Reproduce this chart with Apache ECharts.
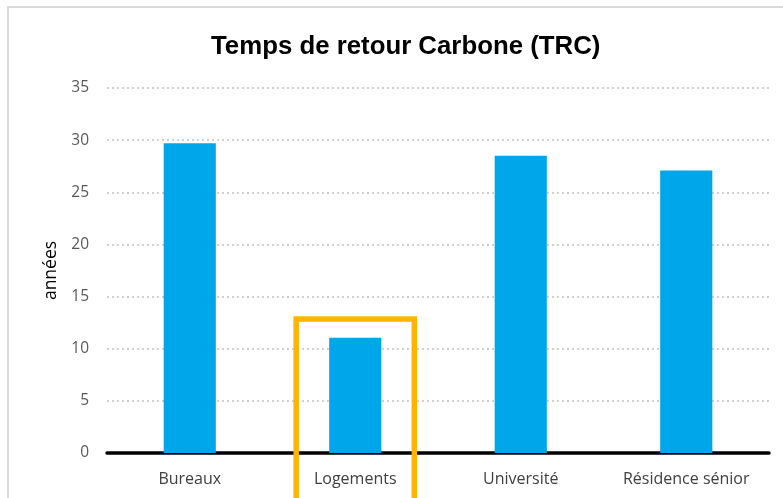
<!DOCTYPE html>
<html>
<head>
<meta charset="utf-8">
<script src="https://cdn.jsdelivr.net/npm/echarts@6/dist/echarts.min.js"></script>
<style>
  html, body { margin: 0; padding: 0; background: #ffffff; }
  #chart { width: 783px; height: 498px; }
</style>
</head>
<body>
<div id="chart"></div>
<script>
// Building types and their carbon payback time (years)
const categories = ['Bureaux', 'Logements', 'Université', 'Résidence sénior'];
const trcYears = [29.7, 11.05, 28.5, 27.1];
const yTicks = { min: 0, max: 35, interval: 5 };
// Highlight frame around one category (top edge in years)
const highlightCategory = 'Logements';
const highlightTop = 12.85;

const chart = echarts.init(document.getElementById('chart'), null, { renderer: 'canvas' });

const option = {
  animation: false,
  backgroundColor: '#ffffff',
  title: {
    text: 'Temps de retour Carbone (TRC)',
    left: 206,
    top: 29,
    textStyle: {
      fontFamily: 'Liberation Sans',
      fontWeight: 'bold',
      fontSize: 25.8,
      color: '#000000'
    }
  },
  grid: { left: 107, right: 14, top: 88, bottom: 45 },
  xAxis: {
    type: 'category',
    data: categories,
    axisLine: { show: true, lineStyle: { color: '#000000', width: 3.5 } },
    axisTick: { show: false },
    axisLabel: {
      color: '#404040',
      fontFamily: 'Open Sans',
      fontSize: 16,
      margin: 18
    }
  },
  yAxis: {
    type: 'value',
    min: yTicks.min,
    max: yTicks.max,
    interval: yTicks.interval,
    name: 'années',
    nameLocation: 'middle',
    nameGap: 47,
    nameRotate: 90,
    nameTextStyle: { color: '#000000', fontFamily: 'Open Sans', fontSize: 17.5 },
    axisLine: { show: false },
    axisTick: { show: false },
    axisLabel: { color: '#595959', fontFamily: 'Open Sans', fontSize: 15.5, margin: 18 },
    splitLine: { show: true, lineStyle: { color: '#d0d0d0', width: 2, type: [2, 3] } }
  },
  series: [{
    type: 'bar',
    data: trcYears,
    barWidth: '31.5%',
    itemStyle: { color: '#00A6EA' },
    silent: true
  }]
};

chart.setOption(option);

// Chart frame and the highlight box anchored to the category position
function drawOverlays() {
  const idx = categories.indexOf(highlightCategory);
  const center = chart.convertToPixel({ xAxisIndex: 0 }, idx);
  const step = chart.convertToPixel({ xAxisIndex: 0 }, 1) - chart.convertToPixel({ xAxisIndex: 0 }, 0);
  const topY = chart.convertToPixel({ yAxisIndex: 0 }, highlightTop);
  const half = step * 0.357;
  chart.setOption({
    graphic: [
      {
        type: 'polyline',
        silent: true,
        shape: { points: [[8, 510], [8, 7], [800, 7]] },
        style: { stroke: '#d9d9d9', lineWidth: 2, fill: null }
      },
      {
        type: 'rect',
        silent: true,
        z: 100,
        shape: { x: center - half, y: topY, width: half * 2, height: 300 },
        style: { stroke: '#FFB400', lineWidth: 5.5, fill: null }
      }
    ]
  });
}
drawOverlays();
</script>
</body>
</html>
